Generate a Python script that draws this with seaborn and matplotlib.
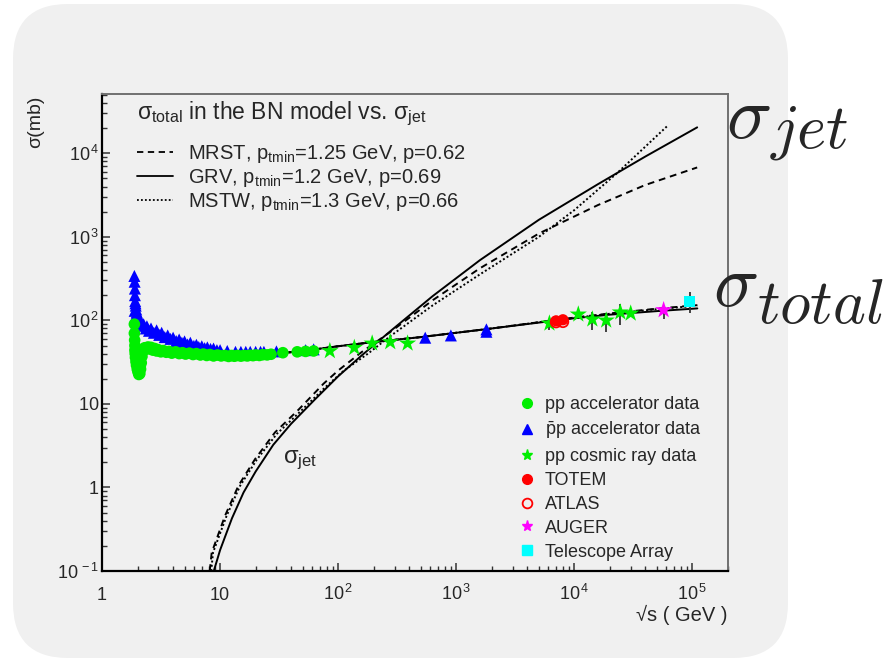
import numpy as np
import matplotlib
matplotlib.use("Agg")
import matplotlib.pyplot as plt
import seaborn as sns
from matplotlib.lines import Line2D
from matplotlib.patches import FancyBboxPatch
from matplotlib.transforms import IdentityTransform
from matplotlib.ticker import FixedLocator, NullFormatter

# ---- DATA ----

# sigma_jet curves: sqrt(s) in GeV, sigma in mb
grv_jet_x = [8.65, 10, 12.6, 15.8, 20, 28.2, 39.8, 63.1, 100, 158, 282, 631, 1585, 5012, 15849, 39811, 109648]
grv_jet_y = [0.09, 0.178, 0.427, 0.871, 1.55, 3.24, 5.75, 11.2, 21.4, 38.0, 75.9, 195, 525, 1600, 4266, 9120, 20417]

mrst_jet_x = [8.17, 8.49, 11.0, 14.3, 19.8, 29.2, 46.1, 75.0, 100, 158, 282, 631, 1585, 5012, 15849, 39811, 109648]
mrst_jet_y = [0.1, 0.166, 0.457, 1.05, 2.19, 4.57, 8.51, 17.4, 25.1, 41.7, 74.1, 174, 420, 1096, 2399, 4169, 6761]

mstw_jet_x = [8.41, 8.71, 11.35, 14.79, 20.4, 30.2, 47.9, 77.6, 112, 178, 282, 631, 1585, 5012, 10000, 22909, 61660]
mstw_jet_y = [0.1, 0.166, 0.457, 1.05, 2.14, 4.37, 8.13, 15.8, 25.1, 39.8, 66.1, 151, 355, 1000, 2089, 5754, 21380]

# sigma_total curves
tot_x = [30, 50, 100, 200, 500, 1000, 2000, 5000, 10000, 20000, 50000, 110000]
grv_tot_y = [40, 43, 49, 55, 63, 71, 80, 94, 106, 117, 129, 139]
mrst_tot_y = [40, 43, 49, 55, 63, 71, 80, 95, 108, 121, 138, 152]
mstw_tot_y = [40, 43, 49, 55, 63, 71, 80, 95, 107, 120, 136, 150]

# pp accelerator data
pp_x = [1.88, 1.88, 1.89, 1.9, 1.9, 1.91, 1.92, 1.94, 1.96, 1.99, 2.02, 2.05, 2.09, 2.12, 2.15,
        2.18, 2.22, 2.3, 2.45, 2.6, 2.8, 3.0, 3.3, 3.7, 4.2, 4.8, 5.5, 6.3, 7.2, 8.2, 9.5, 11,
        12.5, 14, 16, 18, 20, 23, 27, 34, 45, 53, 62,
        2.35, 2.55, 2.7, 2.9, 3.15, 3.5, 3.9, 4.5, 5.1, 5.9, 6.8, 7.7, 8.8, 10.2, 11.8, 13.2,
        15, 17, 19, 21.5, 25, 2.03, 2.07, 2.11]
pp_y = [90, 70, 58, 50, 44, 40, 36, 32, 29, 26, 24, 22.5, 23, 26, 31, 37, 43, 47, 48, 47.5, 46,
        44.5, 43.5, 42.5, 42, 41, 40.5, 40, 39.5, 39, 38.5, 38, 38, 38, 38, 38.2, 38.5, 38.8,
        39.3, 41, 42, 42.5, 43,
        45, 45.5, 44, 43, 42, 41.5, 40.5, 40, 39.5, 39, 38.5, 38, 37.5, 37.5, 37, 37.2,
        37.3, 37.5, 37.8, 38, 38.6, 27, 25, 28]

# pbar-p accelerator data
ppbar_x = [1.88, 1.89, 1.9, 1.9, 1.91, 1.93, 1.95, 1.98, 2.02, 2.08, 2.15, 2.25, 2.4, 2.6, 2.9,
           3.2, 3.6, 4.0, 4.5, 5.0, 5.6, 6.3, 7.0, 7.8, 8.8, 10, 11.5, 13.5, 15, 16.5, 18, 20,
           22, 23.5, 30, 53, 62, 546, 900, 1800, 1800,
           1.92, 1.97, 2.05, 2.12, 2.2, 2.35, 2.5, 2.75, 3.05, 3.4, 3.8, 4.25, 4.75, 5.3, 6.0,
           6.6, 7.4, 8.3, 9.4, 1.89, 1.91, 1.94]
ppbar_y = [340, 290, 240, 200, 170, 150, 135, 120, 110, 100, 95, 90, 85, 80, 76, 71, 66, 62, 59,
           56, 54, 51, 49, 47.5, 46, 44, 43, 42, 42, 42, 42, 42, 42, 42, 42.5, 44, 45, 62, 66,
           73, 78,
           160, 125, 102, 94, 86, 80, 75, 71, 67, 63, 60, 56.5, 54, 51.5, 49.5, 48, 46.5, 45.5,
           44, 130, 110, 100]

# pp cosmic ray data with error bars
cosmic_x = [85, 137, 194, 276, 387, 6150, 10800, 14200, 18600, 24500, 30000]
cosmic_y = [43, 47, 53, 55, 53, 92, 118, 103, 100, 125, 121]
cosmic_lo = [43, 47, 53, 55, 53, 77, 110, 77, 72, 89, 115]
cosmic_hi = [43, 47, 53, 55, 53, 92, 126, 126, 109, 155, 127]

totem_x = [7000, 8000]
totem_y = [98.6, 101.7]
atlas_x = [7000, 8000]
atlas_y = [95.4, 96.1]

auger_x = [57000]
auger_y = [133]
auger_lo = [105]
auger_hi = [151]

ta_x = [95000]
ta_y = [169]
ta_lo = [122]
ta_hi = [218]

# ---- STYLE ----
sns.set_style("ticks")
plt.rcParams["font.family"] = ["Liberation Sans", "DejaVu Sans"]
plt.rcParams["mathtext.fontset"] = "custom"
plt.rcParams["mathtext.rm"] = "Liberation Sans"
plt.rcParams["mathtext.it"] = "Liberation Sans:italic"
plt.rcParams["mathtext.bf"] = "Liberation Sans:bold"

W, H = 893, 659
fig = plt.figure(figsize=(W / 100, H / 100), dpi=100)
fig.patch.set_facecolor("white")

# rounded grey panel behind everything
panel = FancyBboxPatch((13, 1), 775, 654, boxstyle="round,pad=0,rounding_size=55",
                       transform=IdentityTransform(), fc="#f0f0f0", ec="none", zorder=-5)
fig.patches.append(panel)

ax = fig.add_axes([102 / W, 1 - 571 / H, 626 / W, 477 / H])
ax.patch.set_visible(False)
ax.set_xscale("log")
ax.set_yscale("log")

# sigma_jet and sigma_total curves
dash = (0, (3.5, 2.5))
dot = (0, (1, 1.2))
for xs, ys, ls in [(mrst_jet_x, mrst_jet_y, dash), (grv_jet_x, grv_jet_y, "-"),
                   (mstw_jet_x, mstw_jet_y, dot), (tot_x, mrst_tot_y, dash),
                   (tot_x, grv_tot_y, "-"), (tot_x, mstw_tot_y, dot)]:
    sns.lineplot(x=xs, y=ys, color="black", linestyle=ls, lw=1.4, sort=False,
                 estimator=None, ax=ax, zorder=2)

# error bars
ax.vlines(cosmic_x, cosmic_lo, cosmic_hi, color="#333333", lw=1.3, zorder=2.5)
ax.vlines(auger_x, auger_lo, auger_hi, color="#333333", lw=1.3, zorder=2.5)
ax.vlines(ta_x, ta_lo, ta_hi, color="#333333", lw=1.3, zorder=2.5)

# data points
sns.scatterplot(x=ppbar_x, y=ppbar_y, marker="^", s=75, color="#0000ff", edgecolor="none", ax=ax, zorder=3)
sns.scatterplot(x=pp_x, y=pp_y, marker="o", s=70, color="#00ee00", edgecolor="none", ax=ax, zorder=3)
sns.scatterplot(x=cosmic_x, y=cosmic_y, marker="*", s=170, color="#00ee00", edgecolor="none", ax=ax, zorder=4)
sns.scatterplot(x=totem_x, y=totem_y, marker="o", s=65, color="#ff0000", edgecolor="none", ax=ax, zorder=4)
sns.scatterplot(x=atlas_x, y=atlas_y, marker="o", s=60, facecolor="none", edgecolor="#ff0000",
                linewidth=1.3, ax=ax, zorder=4)
sns.scatterplot(x=auger_x, y=auger_y, marker="*", s=170, color="#ff00ff", edgecolor="none", ax=ax, zorder=4)
sns.scatterplot(x=ta_x, y=ta_y, marker="s", s=65, color="#00ffff", edgecolor="none", ax=ax, zorder=4)

ax.set_xlim(1, 2.0e5)
ax.set_ylim(0.1, 5.12e4)

# axes frame in ROOT style
for side in ["left", "bottom"]:
    ax.spines[side].set_color("black")
    ax.spines[side].set_linewidth(1.6)
for side in ["top", "right"]:
    ax.spines[side].set_visible(True)
    ax.spines[side].set_color("#707070")
    ax.spines[side].set_linewidth(1.4)

xmaj = [1, 10, 100, 1e3, 1e4, 1e5]
xlab = ["1", "10", r"$\mathdefault{10^{\,2}}$", r"$\mathdefault{10^{\,3}}$",
        r"$\mathdefault{10^{\,4}}$", r"$\mathdefault{10^{\,5}}$"]
ymaj = [0.1, 1, 10, 100, 1e3, 1e4]
ylab = [r"$\mathdefault{10^{\,-1}}$", r"$\mathdefault{1}\quad$", r"$\mathdefault{10}\quad$",
        r"$\mathdefault{10^{\,2}}$", r"$\mathdefault{10^{\,3}}$", r"$\mathdefault{10^{\,4}}$"]
xmin = [k * 10 ** d for d in range(0, 6) for k in range(2, 10) if k * 10 ** d <= 2e5]
ymin = [k * 10.0 ** d for d in range(-1, 5) for k in range(2, 10) if k * 10.0 ** d <= 5e4]

ax.xaxis.set_major_locator(FixedLocator(xmaj))
ax.xaxis.set_minor_locator(FixedLocator(xmin))
ax.xaxis.set_minor_formatter(NullFormatter())
ax.set_xticks(xmaj, xlab)
ax.yaxis.set_major_locator(FixedLocator(ymaj))
ax.yaxis.set_minor_locator(FixedLocator(ymin))
ax.yaxis.set_minor_formatter(NullFormatter())
ax.set_yticks(ymaj, ylab)

ax.tick_params(which="both", direction="in", color="#333333", labelsize=13,
               top=False, right=False)
ax.tick_params(which="major", length=6, width=1.1)
ax.tick_params(which="minor", length=3.5, width=1.0)
ax.tick_params(axis="x", which="major", pad=21)
ax.tick_params(axis="y", which="major", pad=2)
for t in ax.xaxis.get_major_ticks():
    t.label1.set_verticalalignment("baseline")

# axis titles
fig.text(728 / W, 1 - 615 / H, "√s ( GeV )", ha="right", va="center", fontsize=14.5)
fig.text(36 / W, 1 - 122 / H, "σ(mb)", ha="center", va="center", rotation=90, fontsize=14)

# upper-left legend for the models
fig.text(137 / W, 1 - 114 / H, r"σ$_{\mathrm{total}}$ in the BN model vs. σ$_{\mathrm{jet}}$",
         ha="left", va="center", fontsize=16.5)
model_handles = [Line2D([], [], color="black", linestyle=dash, lw=1.3),
                 Line2D([], [], color="black", linestyle="-", lw=1.3),
                 Line2D([], [], color="black", linestyle=dot, lw=1.3)]
model_labels = [r"MRST, p$_{\mathrm{tmin}}$=1.25 GeV, p=0.62",
                r"GRV, p$_{\mathrm{tmin}}$=1.2 GeV, p=0.69",
                r"MSTW, p$_{\mathrm{tmin}}$=1.3 GeV, p=0.66"]
leg1 = ax.legend(model_handles, model_labels, loc="upper left",
                 bbox_to_anchor=((137 - 102) / 626, (571 - 143) / 477),
                 frameon=False, fontsize=14.5, handlelength=1.8, handletextpad=0.75,
                 labelspacing=0.1, borderpad=0, borderaxespad=0)
ax.add_artist(leg1)

# lower-right legend for the data
data_handles = [Line2D([], [], ls="none", marker="o", color="#00ee00", ms=7),
                Line2D([], [], ls="none", marker="^", color="#0000ff", ms=7),
                Line2D([], [], ls="none", marker="*", color="#00ee00", ms=8),
                Line2D([], [], ls="none", marker="o", color="#ff0000", ms=7),
                Line2D([], [], ls="none", marker="o", mfc="none", mec="#ff0000", mew=1.3, ms=7),
                Line2D([], [], ls="none", marker="*", color="#ff00ff", ms=8),
                Line2D([], [], ls="none", marker="s", color="#00ffff", ms=7)]
data_labels = ["pp accelerator data", r"$\bar{\mathrm{p}}$p accelerator data", "pp cosmic ray data",
               "TOTEM", "ATLAS", "AUGER", "Telescope Array"]
ax.legend(data_handles, data_labels, loc="upper left",
          bbox_to_anchor=((517 - 102) / 626, (571 - 396) / 477),
          frameon=False, fontsize=13, handlelength=1.1, handletextpad=0.45,
          labelspacing=0.38, borderpad=0, borderaxespad=0)

# curve labels
fig.text(283 / W, 1 - 463 / H, r"σ$_{\mathrm{jet}}$", ha="left", va="baseline", fontsize=17)
# large labels outside the frame: sigma and its subscript set separately
fig.text(726 / W, 1 - 138 / H, r"$\sigma$", ha="left", va="baseline",
         fontsize=54, math_fontfamily="cm")
fig.text(770 / W, 1 - 148 / H, r"$jet$", ha="left", va="baseline",
         fontsize=45, math_fontfamily="cm")
fig.text(713 / W, 1 - 306 / H, r"$\sigma$", ha="left", va="baseline",
         fontsize=54, math_fontfamily="cm")
fig.text(757 / W, 1 - 323 / H, r"$total$", ha="left", va="baseline",
         fontsize=45, math_fontfamily="cm")

fig.savefig("out.png", dpi=100)
